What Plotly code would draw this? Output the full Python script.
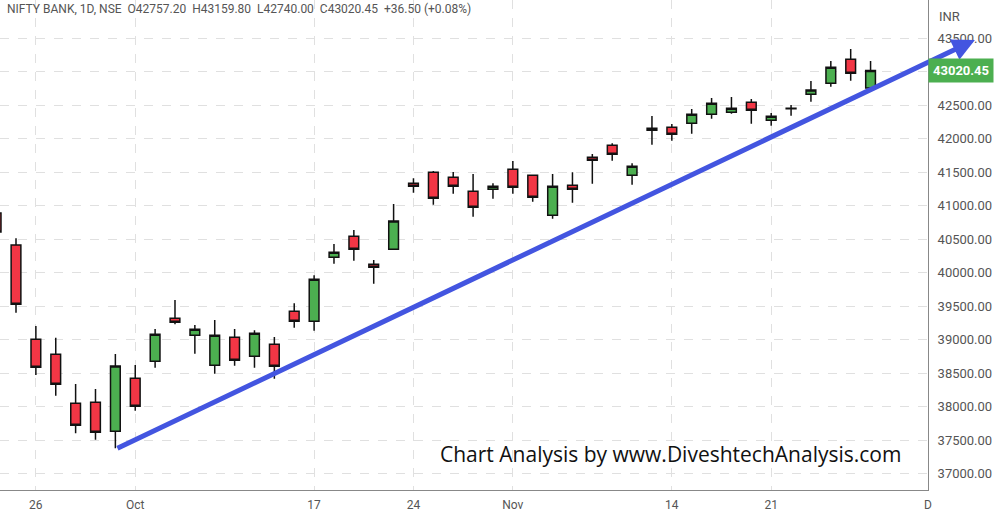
import plotly.graph_objects as go

# trading-day index (0 = 23 Sep 2022)
idx = list(range(-1, 44))
opens = [40892, 40414, 39006, 38782, 38051, 38065, 37632, 38424, 38678, 39320, 39066,
         38618, 39036, 38752, 38931, 39424, 39275, 40230, 40544, 40126, 40350, 41335,
         41499, 41425, 41216, 41246, 41544, 41455, 40857, 41305, 41723, 41902, 41455,
         42156, 42171, 42231, 42365, 42395, 42545, 42276, 42450, 42664, 42828, 43186, 42757.2]
highs = [40990, 40514, 39205, 39030, 38339, 38264, 38787, 38622, 39160, 39593, 39220,
         39294, 39160, 39140, 39040, 39544, 39962, 40429, 40638, 40190, 41026, 41410,
         41519, 41504, 41474, 41335, 41668, 41455, 41474, 41499, 41773, 41932, 41634,
         42340, 42220, 42444, 42609, 42624, 42594, 42385, 42504, 42862, 43161, 43340, 43159.8]
lows = [40550, 39403, 38473, 38164, 37603, 37507, 37379, 37940, 38582, 39230, 38791,
        38492, 38612, 38582, 38418, 39179, 39134, 40135, 40180, 39836, 40350, 41195,
        41016, 41180, 40837, 41105, 41180, 41060, 40807, 41046, 41329, 41673, 41314,
        41911, 41971, 42076, 42300, 42374, 42225, 42195, 42344, 42553, 42777, 42867, 42740]
closes = [40608, 39529, 38588, 38334, 37722, 37618, 38607, 38006, 39081, 39260, 39155,
          39066, 38693, 39096, 38603, 39275, 39902, 40305, 40350, 40081, 40772, 41290,
          41111, 41290, 40977, 41290, 41275, 41126, 41290, 41246, 41679, 41768, 41589,
          42126, 42067, 42365, 42530, 42455, 42425, 42335, 42455, 42728, 43067, 42977, 43020.45]

tick_pos = [1, 6, 15, 20, 25, 33, 38]
tick_text = ["26", "Oct", "17", "24", "Nov", "14", "21"]
y_ticks = list(range(37000, 44000, 500))

fig = go.Figure(go.Candlestick(
    x=idx, open=opens, high=highs, low=lows, close=closes,
    increasing=dict(fillcolor="#4caf50", line=dict(color="#111111", width=1.5)),
    decreasing=dict(fillcolor="#f23645", line=dict(color="#111111", width=1.5)),
    whiskerwidth=0, hoverinfo="skip",
))

grid = dict(showgrid=True, gridcolor="#e0e0e0", griddash="dash", gridwidth=1)
fig.update_xaxes(range=[-0.805, 45.89], tickvals=tick_pos, ticktext=tick_text,
                 rangeslider_visible=False, showline=True, linecolor="#888888",
                 tickfont=dict(family="Roboto", size=12, color="#555555"),
                 ticks="outside", ticklen=4, tickcolor="white",
                 zeroline=False, automargin=False, **grid)
fig.update_yaxes(range=[36756, 44072], side="right", tickvals=y_ticks,
                 ticktext=[f"{v}.00" for v in y_ticks], showline=True, linecolor="#888888",
                 tickfont=dict(family="Roboto", size=13, color="#555555"),
                 ticks="outside", ticklen=6, tickcolor="white", zeroline=False,
                 automargin=False, **grid)

# trend arrow
fig.add_annotation(x=48.25, y=43475, ax=5.03, ay=37368, xref="x", yref="y",
                   axref="x", ayref="y", showarrow=True, arrowhead=2, arrowsize=0.9,
                   arrowwidth=5, arrowcolor="#4355e0", text="")

fig.add_annotation(x=0.005, y=1.0, xref="paper", yref="paper", xanchor="left", yanchor="top",
                   showarrow=False, align="left",
                   text="NIFTY BANK, 1D, NSE  O42757.20  H43159.80  L42740.00  C43020.45  +36.50 (+0.08%)",
                   font=dict(family="Roboto", size=12, color="#555555"))
fig.add_annotation(x=1.01, y=0.985, xref="paper", yref="paper", xanchor="left", yanchor="top",
                   showarrow=False, text="INR", font=dict(family="Roboto", size=13, color="#555555"))
fig.add_annotation(x=1.0, y=43020.45, xref="paper", yref="y", xanchor="left",
                   showarrow=False, text="<b>43020.45</b>", bgcolor="#4caf50",
                   font=dict(family="Roboto", size=13, color="white"), borderpad=4)
fig.add_annotation(x=0.722, y=37300, xref="paper", yref="y", xanchor="center", showarrow=False,
                   text="Chart Analysis by www.DiveshtechAnalysis.com",
                   font=dict(family="Open Sans", size=21, color="#111111"))
fig.add_annotation(x=1.0, y=0, xref="paper", yref="paper", yanchor="top", xanchor="center",
                   yshift=-6, showarrow=False, text="D",
                   font=dict(family="Roboto", size=12, color="#555555"))

fig.update_layout(width=1000, height=519, margin=dict(l=0, r=72, t=0, b=29),
                  plot_bgcolor="white", paper_bgcolor="white", showlegend=False)
fig.write_html("out.html", config={"displayModeBar": False},
               post_script="document.body.style.margin='0';")
